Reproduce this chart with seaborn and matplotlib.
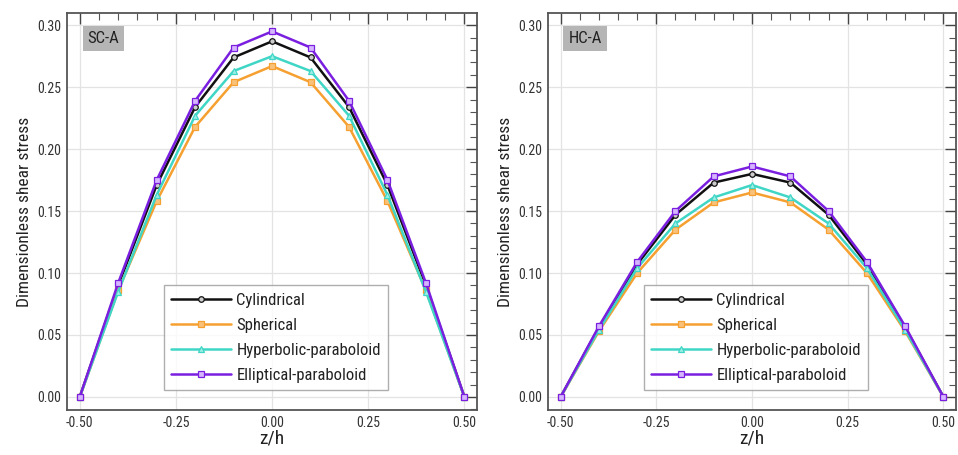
import numpy as np
import pandas as pd
import matplotlib
matplotlib.use("Agg")
import matplotlib.pyplot as plt
from matplotlib.ticker import MultipleLocator
import seaborn as sns

# Through-thickness coordinate
z_h = [-0.5, -0.4, -0.3, -0.2, -0.1, 0.0, 0.1, 0.2, 0.3, 0.4, 0.5]

series_names = ["Cylindrical", "Spherical", "Hyperbolic-paraboloid", "Elliptical-paraboloid"]

# SC-A shell
sc_cylindrical = [0.0, 0.090, 0.171, 0.234, 0.274, 0.287, 0.274, 0.234, 0.171, 0.090, 0.0]
sc_spherical = [0.0, 0.086, 0.158, 0.218, 0.254, 0.267, 0.254, 0.218, 0.158, 0.086, 0.0]
sc_hyperbolic = [0.0, 0.085, 0.163, 0.227, 0.263, 0.275, 0.263, 0.227, 0.163, 0.085, 0.0]
sc_elliptical = [0.0, 0.092, 0.175, 0.239, 0.282, 0.295, 0.282, 0.239, 0.175, 0.092, 0.0]

# HC-A shell
hc_cylindrical = [0.0, 0.056, 0.107, 0.147, 0.173, 0.180, 0.173, 0.147, 0.107, 0.056, 0.0]
hc_spherical = [0.0, 0.053, 0.100, 0.135, 0.157, 0.165, 0.157, 0.135, 0.100, 0.053, 0.0]
hc_hyperbolic = [0.0, 0.054, 0.104, 0.140, 0.161, 0.171, 0.161, 0.140, 0.104, 0.054, 0.0]
hc_elliptical = [0.0, 0.057, 0.109, 0.150, 0.178, 0.186, 0.178, 0.150, 0.109, 0.057, 0.0]

panel_titles = ["SC-A", "HC-A"]
panel_data = [
    [sc_cylindrical, sc_spherical, sc_hyperbolic, sc_elliptical],
    [hc_cylindrical, hc_spherical, hc_hyperbolic, hc_elliptical],
]

colors = ["#111111", "#f5a030", "#3fd6c6", "#7a1fe0"]
markers = ["o", "s", "^", "s"]
faces = ["#cccccc", "#f9c27a", "#9feee6", "#d6b5ff"]

sns.set_theme(style="white")
plt.rcParams["font.family"] = ["Roboto Condensed", "Roboto", "DejaVu Sans"]

fig = plt.figure(figsize=(9.58, 4.55), dpi=100)
axes = [
    fig.add_axes([0.070, 0.099, 0.428, 0.872]),
    fig.add_axes([0.572, 0.099, 0.426, 0.872]),
]

for ax, title, data in zip(axes, panel_titles, panel_data):
    for name, vals, c, m, fc in zip(series_names, data, colors, markers, faces):
        df = pd.DataFrame({"z/h": z_h, "tau": vals})
        sns.lineplot(data=df, x="z/h", y="tau", ax=ax, color=c, marker=m,
                     markersize=4, markerfacecolor=fc, markeredgecolor=c,
                     markeredgewidth=0.9, linewidth=1.8, label=name)
    ax.set_xlim(-0.533, 0.533)
    ax.set_ylim(-0.0105, 0.3097)
    ax.xaxis.set_major_locator(MultipleLocator(0.25))
    ax.xaxis.set_minor_locator(MultipleLocator(0.05))
    ax.yaxis.set_major_locator(MultipleLocator(0.05))
    ax.yaxis.set_minor_locator(MultipleLocator(0.01))
    ax.xaxis.set_major_formatter(plt.FormatStrFormatter("%.2f"))
    ax.yaxis.set_major_formatter(plt.FormatStrFormatter("%.2f"))
    ax.tick_params(which="major", direction="in", length=8, width=1.0,
                   top=True, right=True, labelsize=10, colors="#444444",
                   labelcolor="#333333", pad=4)
    ax.tick_params(which="minor", direction="in", length=5, width=0.8,
                   top=True, right=True, colors="#555555")
    ax.grid(True, which="major", color="#e3e3e3", linewidth=0.9)
    for sp in ax.spines.values():
        sp.set_color("#555555")
        sp.set_linewidth(1.3)
    ax.set_xlabel("z/h", fontsize=14, color="#222222", labelpad=0)
    ax.set_ylabel("Dimensionless shear stress", fontsize=12.5, color="#222222", labelpad=4)
    ax.text(0.05, 0.935, title, transform=ax.transAxes, fontsize=12,
            color="#222222", ha="left", va="center",
            bbox=dict(boxstyle="square,pad=0.3", facecolor="#b5b5b5", edgecolor="none"))
    leg = ax.legend(loc="lower center", bbox_to_anchor=(0.51, 0.05), fontsize=12,
                    frameon=True, fancybox=False, handlelength=3.6, handletextpad=0.3,
                    borderpad=0.45, labelspacing=0.6, borderaxespad=0)
    leg.get_frame().set_edgecolor("#9a9a9a")
    leg.get_frame().set_linewidth(1.0)
    for t in leg.get_texts():
        t.set_color("#222222")

fig.savefig("out.png", dpi=100)
